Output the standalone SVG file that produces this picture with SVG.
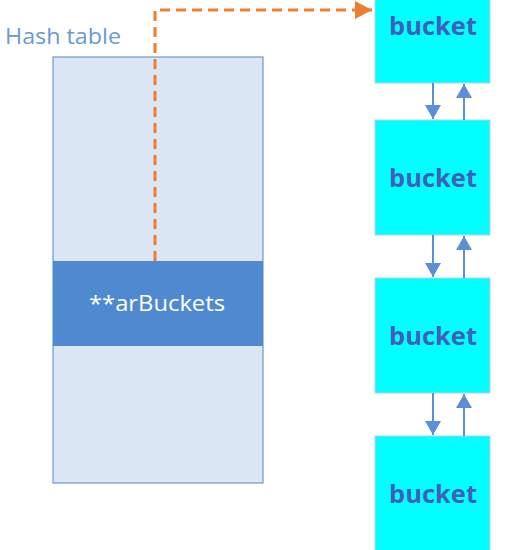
<svg xmlns="http://www.w3.org/2000/svg" width="528" height="550" viewBox="0 0 528 550">
<defs>
<style>
.bucket rect{fill:#00ffff;stroke:#b8d0ea;stroke-width:1}
.bucket text{font-family:"Open Sans","DejaVu Sans",sans-serif;font-weight:bold;font-size:25px;fill:#3f5fbf;text-anchor:middle;dominant-baseline:central}
.link{stroke:#5b8fd6;stroke-width:2;fill:none}
</style>
<marker id="ab" viewBox="0 0 14 16" refX="14" refY="8" markerWidth="14" markerHeight="16" orient="auto" markerUnits="userSpaceOnUse">
<path d="M0,0 L14,8 L0,16 z" fill="#5b8fd6"/>
</marker>
<marker id="ao" viewBox="0 0 17 18" refX="17" refY="9" markerWidth="17" markerHeight="18" orient="auto" markerUnits="userSpaceOnUse">
<path d="M0,0 L17,9 L0,18 z" fill="#ed7d31"/>
</marker>
</defs>
<rect width="528" height="550" fill="#ffffff"/>
<g id="hashtable">
<text x="5" y="44" font-family="Open Sans, DejaVu Sans, sans-serif" font-size="21" fill="#6a9ad3" textLength="116" lengthAdjust="spacingAndGlyphs">Hash table</text>
<rect x="53" y="57" width="210" height="426" fill="#dce7f5" stroke="#6f97cf" stroke-width="1.2"/>
</g>
<g id="arBuckets">
<rect x="53" y="261" width="210" height="85" fill="#4f8ad0"/>
<text x="157" y="302" font-family="Open Sans, DejaVu Sans, sans-serif" font-size="22" fill="#ffffff" text-anchor="middle" dominant-baseline="central" textLength="136" lengthAdjust="spacingAndGlyphs">**arBuckets</text>
</g>
<g id="bucket1" class="bucket"><rect x="375" y="-32" width="115" height="115"/><text x="433" y="25" textLength="88" lengthAdjust="spacingAndGlyphs">bucket</text></g>
<g id="bucket2" class="bucket"><rect x="375" y="120" width="115" height="115"/><text x="433" y="177" textLength="88" lengthAdjust="spacingAndGlyphs">bucket</text></g>
<g id="bucket3" class="bucket"><rect x="375" y="278" width="115" height="115"/><text x="433" y="335" textLength="88" lengthAdjust="spacingAndGlyphs">bucket</text></g>
<g id="bucket4" class="bucket"><rect x="375" y="436" width="115" height="115"/><text x="433" y="493" textLength="88" lengthAdjust="spacingAndGlyphs">bucket</text></g>
<g id="connectors">
<path d="M155,261 V10 H372" fill="none" stroke="#ed7d31" stroke-width="3" stroke-dasharray="10,6" marker-end="url(#ao)"/>
<line class="link" x1="433" y1="83" x2="433" y2="119" marker-end="url(#ab)"/>
<line class="link" x1="464" y1="120" x2="464" y2="84" marker-end="url(#ab)"/>
<line class="link" x1="433" y1="235" x2="433" y2="277" marker-end="url(#ab)"/>
<line class="link" x1="464" y1="278" x2="464" y2="236" marker-end="url(#ab)"/>
<line class="link" x1="433" y1="393" x2="433" y2="435" marker-end="url(#ab)"/>
<line class="link" x1="464" y1="436" x2="464" y2="394" marker-end="url(#ab)"/>
</g>
</svg>
